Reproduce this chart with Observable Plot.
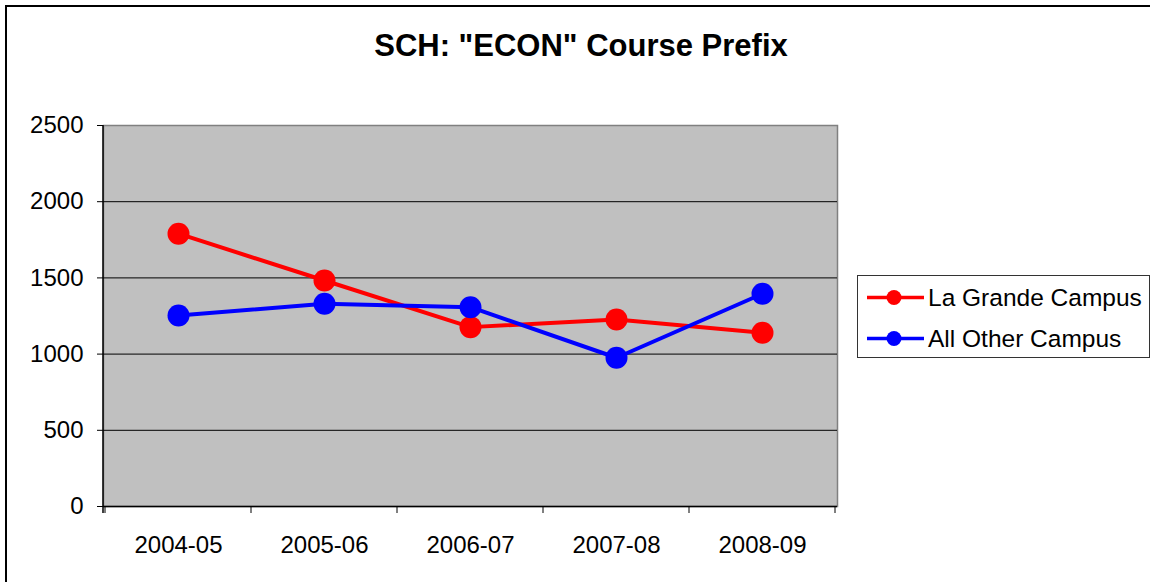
<!DOCTYPE html>
<html><head><meta charset="utf-8">
<script src="https://cdn.jsdelivr.net/npm/d3@7"></script>
<script src="https://cdn.jsdelivr.net/npm/@observablehq/plot@0.6"></script>
<style>
body{margin:0;background:#fff;font-family:"Liberation Sans",Arial,sans-serif;}
#wrap{position:relative;width:1150px;height:582px;overflow:hidden;background:#fff;}
#border{position:absolute;left:5px;top:5px;width:1200px;height:600px;border-top:2px solid #000;border-left:2px solid #000;pointer-events:none;}
#title{position:absolute;left:0;width:1162px;top:31px;line-height:30px;text-align:center;font-weight:bold;font-size:31px;color:#000;}
#legend{position:absolute;left:857px;top:275px;width:291px;height:81px;border:1px solid #333;background:#fff;}
#chart{position:absolute;left:0;top:0;}
</style></head>
<body>
<div id="wrap">
  <div id="chart"></div>
  <div id="border"></div>
  <div id="title">SCH: "ECON" Course Prefix</div>
  <div id="legend"></div>
</div>
<script>
const categories = ["2004-05","2005-06","2006-07","2007-08","2008-09"];
const laGrande = [1790, 1483, 1177, 1227, 1140];
const allOther = [1253, 1330, 1308, 976, 1396];
const seriesNames = ["La Grande Campus","All Other Campus"];
const seriesColors = ["#ff0000","#0000ff"];
const yTicks = [0,500,1000,1500,2000,2500];

const seriesValues = [laGrande, allOther];
const rows = [];
seriesNames.forEach((s, si) => {
  categories.forEach((c, i) => rows.push({cat: c, series: s, value: seriesValues[si][i]}));
});

const chart = Plot.plot({
  width: 1150, height: 582,
  marginLeft: 103, marginRight: 313, marginTop: 125, marginBottom: 76,
  style: {fontFamily: "Liberation Sans, Arial, sans-serif", fontSize: "24px", color: "#000", background: "transparent", overflow: "visible"},
  x: {type: "band", domain: categories, padding: 0, label: null},
  y: {domain: [0, 2500], label: null},
  color: {domain: seriesNames, range: seriesColors},
  marks: [
    Plot.frame({fill: "#c0c0c0", stroke: "#808080", strokeWidth: 1.5}),
    Plot.ruleY(yTicks.filter(d => d > 0 && d < 2500), {stroke: "#000", strokeWidth: 1}),
    Plot.ruleY([0], {stroke: "#000", strokeWidth: 1.5}),
    Plot.axisY({ticks: yTicks, tickSize: 6, tickPadding: 14, tickFormat: d => String(d), fontSize: 24, label: null, stroke: "#000"}),
    Plot.axisX({tickSize: 0, tickPadding: 29, fontSize: 24, label: null}),
    Plot.line(rows, {x: "cat", y: "value", z: "series", stroke: "series", strokeWidth: 4}),
    Plot.dot(rows, {x: "cat", y: "value", fill: "series", r: 11})
  ]
});
document.getElementById("chart").appendChild(chart);

// category boundary ticks and left axis line, via the plot's own scales
const xs = chart.scale("x");
const ys = chart.scale("y");
const svg = d3.select(chart);
const y0 = ys.apply(0), yTop = ys.apply(2500);
const bounds = categories.map(c => xs.apply(c)).concat([xs.apply(categories[categories.length - 1]) + xs.bandwidth]);
svg.append("g").selectAll("line").data(bounds).join("line")
  .attr("x1", d => d).attr("x2", d => d).attr("y1", y0).attr("y2", y0 + 7)
  .attr("stroke", "#000").attr("stroke-width", 1);
svg.append("line").attr("x1", xs.range[0]).attr("x2", xs.range[0]).attr("y1", yTop).attr("y2", y0 + 7)
  .attr("stroke", "#000").attr("stroke-width", 1.5);

// legend
const lg = d3.select("#legend").append("svg").attr("width", 291).attr("height", 81);
const rowsY = [21.5, 62.5];
seriesNames.forEach((s, i) => {
  const g = lg.append("g").attr("transform", `translate(0,${rowsY[i]})`);
  g.append("line").attr("x1", 9).attr("x2", 66).attr("y1", 0).attr("y2", 0).attr("stroke", seriesColors[i]).attr("stroke-width", 3.5);
  g.append("circle").attr("cx", 36).attr("cy", 0).attr("r", 7.5).attr("fill", seriesColors[i]);
  g.append("text").attr("x", 70).attr("y", 8.5).attr("font-size", 24.5).attr("font-family", "Liberation Sans, Arial, sans-serif").attr("fill", "#000").text(s);
});
</script>
</body></html>
